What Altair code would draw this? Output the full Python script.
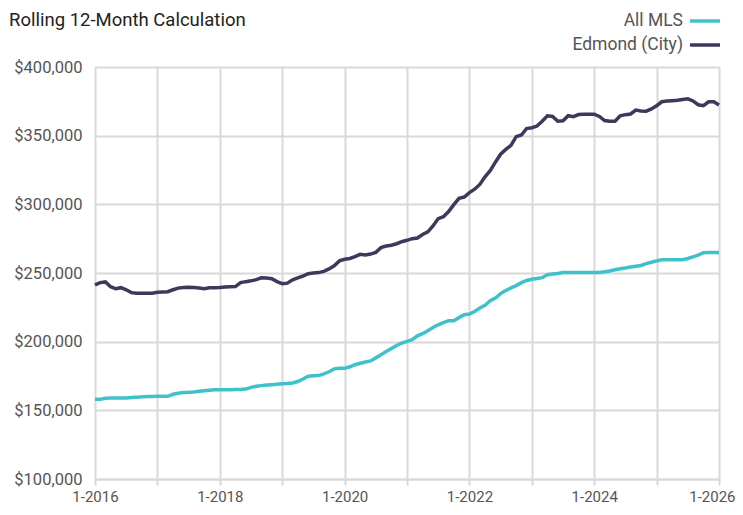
import altair as alt
import pandas as pd

# Monthly rolling 12-month values (thousands of $), Jan 2016 .. Jan 2026
months = pd.date_range("2016-01-01", "2026-01-01", freq="MS")

edmond = [
    241.3, 243.0, 243.5, 240.0, 238.5, 239.3, 237.8, 235.7, 235.3, 235.2, 235.2, 235.3,
    236.0, 236.2, 236.4, 237.8, 239.0, 239.5, 239.6, 239.4, 239.0, 238.5, 239.2, 239.3,
    239.4, 239.8, 240.0, 240.1, 243.0, 243.7, 244.3, 245.2, 246.5, 246.4, 245.8, 243.7,
    242.2, 242.6, 245.0, 246.5, 247.8, 249.5, 250.0, 250.3, 251.2, 253.0, 255.3, 258.8,
    260.0, 260.6, 262.0, 263.6, 263.2, 263.8, 265.0, 268.5, 269.6, 270.2, 271.3, 272.8,
    273.8, 275.0, 275.5, 278.0, 280.0, 284.2, 289.6, 291.0, 294.7, 299.8, 304.4, 305.3,
    308.5, 311.0, 314.5, 320.0, 324.5, 330.7, 336.5, 340.0, 343.0, 349.3, 350.5, 355.2,
    355.8, 357.0, 360.5, 364.5, 364.0, 360.5, 360.8, 364.5, 363.8, 365.4, 365.6, 365.6,
    365.6, 364.0, 361.0, 360.5, 360.5, 364.5, 365.3, 365.8, 368.6, 368.0, 367.8, 369.5,
    371.8, 374.7, 375.2, 375.5, 375.8, 376.3, 376.8, 375.3, 372.5, 371.8, 374.7, 374.7,
    372.3,
]

all_mls = [
    158.0, 158.0, 158.8, 159.0, 159.0, 159.0, 159.0, 159.4, 159.6, 159.8, 160.0, 160.1,
    160.2, 160.2, 160.2, 161.7, 162.5, 162.9, 163.1, 163.4, 163.9, 164.3, 164.7, 165.0,
    165.0, 165.0, 165.0, 165.1, 165.2, 165.5, 166.7, 167.5, 168.0, 168.4, 168.7, 169.0,
    169.3, 169.5, 169.9, 171.0, 172.8, 174.8, 175.1, 175.3, 176.5, 178.1, 180.2, 180.6,
    180.6, 181.7, 183.2, 184.3, 185.2, 186.0, 188.2, 190.5, 192.8, 195.0, 197.2, 199.0,
    200.2, 201.5, 204.2, 205.8, 208.0, 210.3, 212.3, 213.8, 215.3, 215.3, 217.5, 219.6,
    220.1, 222.0, 224.5, 226.5, 229.8, 231.8, 235.0, 237.2, 239.2, 240.8, 243.0, 244.6,
    245.4, 246.0, 246.6, 248.7, 249.3, 249.6, 250.3, 250.4, 250.4, 250.4, 250.4, 250.4,
    250.4, 250.4, 250.9, 251.5, 252.4, 253.1, 253.7, 254.3, 254.9, 255.5, 256.8, 257.8,
    258.8, 259.6, 259.7, 259.7, 259.7, 259.7, 260.6, 261.8, 263.0, 264.8, 264.9, 264.9,
    264.9,
]

series_names = ["All MLS", "Edmond (City)"]
series_colors = ["#3fc1cb", "#3a3a5c"]
tick_years = list(range(2016, 2027))
y_ticks = [100000, 150000, 200000, 250000, 300000, 350000, 400000]
title_text = "Rolling 12-Month Calculation"

FONT = "Roboto, Liberation Sans, sans-serif"

t = [d.year + d.month / 12 - 1 / 12 for d in months]
rows = []
for name, vals in [("Edmond (City)", edmond), ("All MLS", all_mls)]:
    for ti, v in zip(t, vals):
        rows.append({"t": ti, "value": v * 1000, "series": name})
df = pd.DataFrame(rows)

color_scale = alt.Scale(domain=series_names, range=series_colors)

lines = alt.Chart(df).mark_line(strokeWidth=3.5, interpolate="linear").encode(
    x=alt.X(
        "t:Q",
        scale=alt.Scale(domain=[2016, 2026], nice=False, zero=False),
        axis=alt.Axis(
            values=tick_years,
            labelExpr="datum.value % 2 == 0 ? '1-' + datum.value : ''",
            title=None,
            grid=True,
            gridColor="#d9d9d9",
            gridWidth=2,
            domainColor="#d9d9d9",
            domainWidth=2,
            tickColor="#d9d9d9",
            tickWidth=2,
            tickSize=6,
            labelPadding=4,
            labelFont=FONT,
            labelFontSize=15,
            labelColor="#555555",
            labelFlush=False,
            labelAlign={"condition": {"test": "datum.value >= 2026", "value": "right"}, "value": "center"},
            labelOffset={"condition": {"test": "datum.value >= 2026", "value": 16}, "value": 0},
        ),
    ),
    y=alt.Y(
        "value:Q",
        scale=alt.Scale(domain=[100000, 400000], nice=False, zero=False),
        axis=alt.Axis(
            values=y_ticks,
            format="$,.0f",
            title=None,
            grid=True,
            gridColor="#d9d9d9",
            gridWidth=2,
            domain=False,
            ticks=False,
            labelPadding=13,
            labelFont=FONT,
            labelFontSize=16.5,
            labelColor="#555555",
        ),
    ),
    color=alt.Color("series:N", scale=color_scale, legend=None),
    order=alt.Order("t:Q"),
)

title = alt.Chart(pd.DataFrame({"txt": [title_text]})).mark_text(
    align="left", baseline="alphabetic", font=FONT, fontSize=18.5, color="#222222"
).encode(x=alt.value(-86), y=alt.value(-41), text="txt:N")

leg_df = pd.DataFrame({
    "series": series_names,
    "ypos": [-46, -22],
})

leg_text = alt.Chart(leg_df).mark_text(
    align="right", baseline="middle", font=FONT, fontSize=17.5, color="#555555"
).encode(
    x=alt.value(588),
    y=alt.Y("ypos:Q", scale=None),
    text="series:N",
)

leg_line = alt.Chart(leg_df).mark_rule(strokeWidth=3.5).encode(
    x=alt.value(595),
    x2=alt.value(625),
    y=alt.Y("ypos:Q", scale=None),
    color=alt.Color("series:N", scale=color_scale, legend=None),
)

chart = alt.layer(lines, title, leg_text, leg_line).properties(
    width=624,
    height=412,
    autosize=alt.AutoSizeParams(type="none"),
    padding={"left": 87, "top": 59, "right": 16, "bottom": 28},
).configure_view(stroke=None).configure(background="white")

chart.save("out.html", embed_options={"renderer": "svg", "actions": False})
